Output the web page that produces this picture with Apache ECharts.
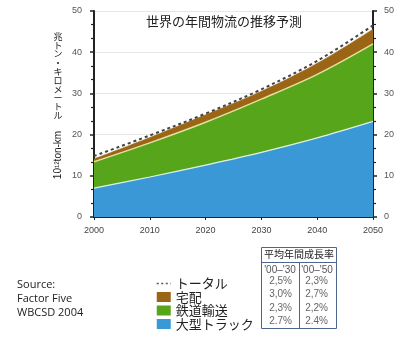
<!DOCTYPE html>
<html>
<head>
<meta charset="utf-8">
<script src="https://cdn.jsdelivr.net/npm/echarts@6/dist/echarts.min.js"></script>
<style>
html,body{margin:0;padding:0;background:#fff;}
#c{width:402px;height:337px;}
</style>
</head>
<body>
<div id="c"></div>
<script>
// ---- data ----
const years = ['2000', '2010', '2020', '2030', '2040', '2050'];
const truck = [7.0, 9.7, 12.6, 15.7, 19.2, 23.2];      // 大型トラック
const rail = [6.4, 8.3, 10.4, 12.9, 15.4, 18.8];       // 鉄道輸送 (stacked on truck)
const parcel = [0.7, 1.3, 1.8, 1.9, 2.7, 3.6];         // 宅配 (stacked)
const total = [14.8, 19.8, 25.1, 31.0, 37.9, 46.5];    // トータル
const seriesNames = ['トータル', '宅配', '鉄道輸送', '大型トラック'];
const titleText = '世界の年間物流の推移予測';
const yNameJa = ['兆', 'ト', 'ン', '・', 'キ', 'ロ', 'メ', 'ー', 'ト', 'ル'];
const yNameEn = '10¹²ton-km';
const sourceLines = ['Source:', 'Factor Five', 'WBCSD 2004'];
const tableHeader = '平均年間成長率';
const tablePeriods = ["'00–'30", "'00–'50"];
const rate0030 = ['2,5%', '3,0%', '2,3%', '2.7%'];
const rate0050 = ['2,3%', '2,7%', '2,2%', '2.4%'];

const C_BLUE = '#3a98d6', C_GREEN = '#57a51b', C_BROWN = '#9a6616';
const FONT = '"Liberation Sans", "Noto Sans CJK JP", sans-serif';
const JFONT = '"Noto Sans CJK JP", sans-serif';

const chart = echarts.init(document.getElementById('c'), null, {renderer: 'canvas'});

const graphics = [];
// title
graphics.push({type: 'text', x: 224, y: 21, style: {text: titleText, align: 'center', verticalAlign: 'middle', font: '13px ' + JFONT, fill: '#222'}});
// y-axis name
graphics.push({type: 'text', x: 58, y: 32, style: {text: yNameJa.join('\n'), align: 'center', verticalAlign: 'top', font: '9px ' + JFONT, lineHeight: 8.8, fill: '#222'}});
graphics.push({type: 'text', x: 58, y: 155, rotation: Math.PI / 2, style: {text: yNameEn, align: 'center', verticalAlign: 'middle', font: '10px ' + FONT, fill: '#222'}});
// source
sourceLines.forEach((t, i) => {
  graphics.push({type: 'text', x: 17, y: 285 + i * 13.7, style: {text: t, align: 'left', verticalAlign: 'middle', font: '11px "Open Sans", sans-serif', fill: '#222'}});
});
// table
const TB = {x1: 261, x2: 336, y1: 247, y2: 328, yh: 262, xm: 299};
const TC = '#4b6790';
graphics.push({type: 'rect', shape: {x: TB.x1 + 0.5, y: TB.y1 + 0.5, width: TB.x2 - TB.x1, height: TB.y2 - TB.y1}, style: {fill: 'none', stroke: TC, lineWidth: 1}});
graphics.push({type: 'line', shape: {x1: TB.x1, y1: TB.yh + 0.5, x2: TB.x2, y2: TB.yh + 0.5}, style: {stroke: TC, lineWidth: 1}});
graphics.push({type: 'line', shape: {x1: TB.xm + 0.5, y1: TB.yh, x2: TB.xm + 0.5, y2: TB.y2}, style: {stroke: TC, lineWidth: 1}});
graphics.push({type: 'text', x: (TB.x1 + TB.x2) / 2 + 0.5, y: 254.5, style: {text: tableHeader, align: 'center', verticalAlign: 'middle', font: '10px ' + JFONT, fill: '#222'}});
graphics.push({type: 'text', x: 280, y: 270.5, style: {text: tablePeriods[0], align: 'center', verticalAlign: 'middle', font: '10px ' + FONT, fill: '#555'}});
graphics.push({type: 'text', x: 317, y: 270.5, style: {text: tablePeriods[1], align: 'center', verticalAlign: 'middle', font: '10px ' + FONT, fill: '#555'}});
rate0030.forEach((t, i) => {
  graphics.push({type: 'text', x: 292, y: 281 + i * 13.4, style: {text: t, align: 'right', verticalAlign: 'middle', font: '10px ' + FONT, fill: '#666'}});
});
rate0050.forEach((t, i) => {
  graphics.push({type: 'text', x: 328, y: 281 + i * 13.4, style: {text: t, align: 'right', verticalAlign: 'middle', font: '10px ' + FONT, fill: '#666'}});
});

const yAxisBase = {
  type: 'value', min: 0, max: 50, interval: 10,
  axisLine: {show: true, lineStyle: {color: '#222', width: 2}},
  axisTick: {show: true, length: 4, lineStyle: {color: '#222', width: 1.5}},
  minorTick: {show: true, splitNumber: 3, length: 3, lineStyle: {color: '#222', width: 1.2}},
  axisLabel: {color: '#555', fontSize: 9, fontFamily: FONT}
};

chart.setOption({
  animation: false,
  textStyle: {fontFamily: FONT},
  grid: {left: 94, right: 29, top: 11, bottom: 120},
  xAxis: {
    type: 'category', data: years, boundaryGap: false,
    axisLine: {show: true, lineStyle: {color: '#222', width: 2}},
    axisTick: {show: true, length: 3, lineStyle: {color: '#222'}},
    splitLine: {show: false},
    axisLabel: {color: '#444', fontSize: 9, fontFamily: FONT, margin: 9}
  },
  yAxis: [
    Object.assign({}, yAxisBase, {position: 'left', splitLine: {show: true, lineStyle: {color: '#e6e6e6', width: 1}}, axisLabel: Object.assign({}, yAxisBase.axisLabel, {margin: 12})}),
    Object.assign({}, yAxisBase, {position: 'right', splitLine: {show: false}, axisLabel: Object.assign({}, yAxisBase.axisLabel, {margin: 11})})
  ],
  legend: {
    orient: 'vertical', left: 156, top: 277, padding: 0,
    itemWidth: 14, itemHeight: 10, itemGap: 0.5,
    textStyle: {fontSize: 13, lineHeight: 12, fontFamily: JFONT, color: '#222'},
    data: [
      {name: seriesNames[0], itemStyle: {opacity: 0}, lineStyle: {color: '#555', width: 1.5, type: [2, 2.5]}},
      {name: seriesNames[1], icon: 'rect'},
      {name: seriesNames[2], icon: 'rect'},
      {name: seriesNames[3], icon: 'rect'}
    ]
  },
  series: [
    {
      name: seriesNames[3], type: 'line', stack: 'freight', smooth: 0.35, symbol: 'none',
      data: truck,
      itemStyle: {color: C_BLUE},
      lineStyle: {color: '#dff0e6', width: 1.2},
      areaStyle: {color: C_BLUE, opacity: 1}
    },
    {
      name: seriesNames[2], type: 'line', stack: 'freight', smooth: 0.35, symbol: 'none',
      data: rail,
      itemStyle: {color: C_GREEN},
      lineStyle: {color: '#e4df9c', width: 1.5},
      areaStyle: {color: C_GREEN, opacity: 1}
    },
    {
      name: seriesNames[1], type: 'line', stack: 'freight', smooth: 0.35, symbol: 'none',
      data: parcel,
      itemStyle: {color: C_BROWN},
      lineStyle: {color: C_BROWN, width: 0.5},
      areaStyle: {color: C_BROWN, opacity: 1}
    },
    {
      name: seriesNames[0], type: 'line', smooth: 0.35, symbol: 'none',
      data: total,
      itemStyle: {color: '#555'},
      lineStyle: {color: '#444', width: 2, type: [3, 3]},
      z: 5
    }
  ],
  graphic: graphics
});
</script>
</body>
</html>
